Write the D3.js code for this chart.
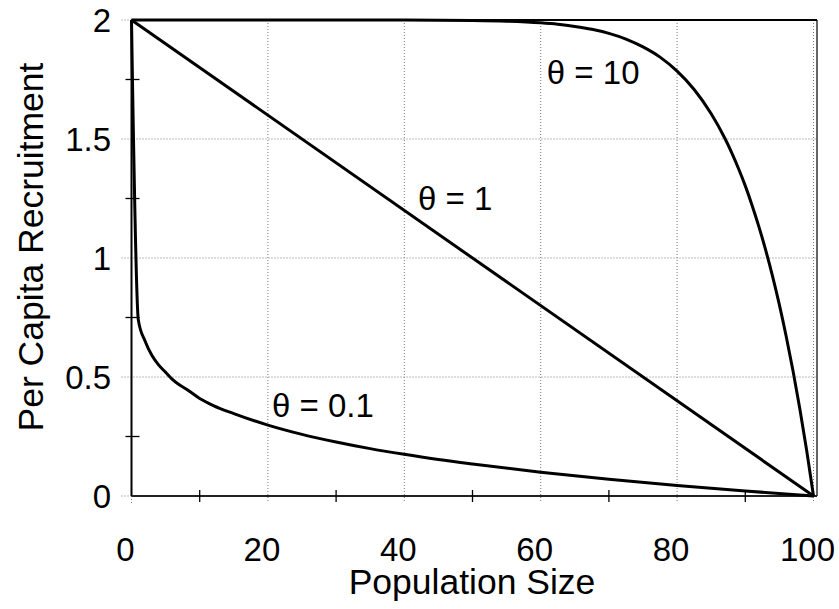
<!DOCTYPE html>
<html>
<head>
<meta charset="utf-8">
<script src="https://cdn.jsdelivr.net/npm/d3@7"></script>
<style>
  html, body { margin: 0; padding: 0; background: #fff; }
  text { font-family: "Liberation Sans", Arial, sans-serif; fill: #000; }
</style>
</head>
<body>
<svg id="chart" width="839" height="609"></svg>
<script>
// ---- data ----
const xTicks = [0, 20, 40, 60, 80, 100];
const yTicks = [0, 0.5, 1, 1.5, 2];
const xMinor = [10, 30, 50, 70, 90];
const yMinor = [0.25, 0.75, 1.25, 1.75];

const thetaLowN = [0, 1, 2, 3, 4, 5, 6, 7, 8, 10, 12, 15, 20, 25, 30, 35, 40, 45, 50, 60, 70, 80, 90, 100];
const thetaLowR = [2, 0.74, 0.65, 0.59, 0.55, 0.52, 0.49, 0.467, 0.45, 0.41, 0.38, 0.346, 0.298, 0.259, 0.227, 0.199, 0.175, 0.153, 0.134, 0.10, 0.07, 0.044, 0.021, 0];

const thetaOneN = [0, 100];
const thetaOneR = [2, 0];

const thetaHighN = [0, 20, 40, 50, 55, 60, 62.5, 65, 67.5, 70, 72.5, 75, 77.5, 80, 82.5, 85, 87, 88, 89, 90, 91, 92, 93, 94, 95, 96, 97, 98, 99, 100];
const thetaHighR = [2, 2, 2, 1.998, 1.995, 1.988, 1.982, 1.973, 1.961, 1.944, 1.920, 1.887, 1.844, 1.785, 1.708, 1.606, 1.503, 1.443, 1.376, 1.303, 1.221, 1.131, 1.032, 0.923, 0.803, 0.670, 0.525, 0.366, 0.191, 0];

const curveLabels = ["θ = 10", "θ = 1", "θ = 0.1"];
const labelPos = [[60.9, 1.73], [42.0, 1.2], [20.6, 0.33]];

const xTitle = "Population Size";
const yTitle = "Per Capita Recruitment";

// ---- drawing ----
const svg = d3.select("#chart");
const x = d3.scaleLinear().domain([0, 100]).range([131.5, 813.5]);
const y = d3.scaleLinear().domain([0, 2]).range([496, 20]);

// grid lines (dotted)
const grid = svg.append("g");
grid.selectAll("line.v").data(xTicks.slice(1)).join("line")
  .attr("x1", d => x(d)).attr("x2", d => x(d))
  .attr("y1", y(2)).attr("y2", y(0) + 7)
  .attr("stroke", "#777").attr("stroke-width", 1).attr("stroke-dasharray", "1,2");
grid.selectAll("line.h").data(yTicks).join("line")
  .attr("x1", x(0) - 10).attr("x2", x(100) + 3)
  .attr("y1", d => y(d)).attr("y2", d => y(d))
  .attr("stroke", "#777").attr("stroke-width", 1).attr("stroke-dasharray", "1,2");
grid.append("line")
  .attr("x1", x(0)).attr("x2", x(0))
  .attr("y1", y(0)).attr("y2", y(0) + 7)
  .attr("stroke", "#777").attr("stroke-dasharray", "1,2");

// frame
svg.append("line").attr("x1", x(100) + 3.5).attr("x2", x(100) + 3.5)
  .attr("y1", y(2)).attr("y2", y(0)).attr("stroke", "#333").attr("stroke-width", 1.5);
svg.append("line").attr("x1", x(0)).attr("x2", x(100) + 3.5)
  .attr("y1", y(2)).attr("y2", y(2)).attr("stroke", "#000").attr("stroke-width", 2);
svg.append("line").attr("x1", x(0)).attr("x2", x(0))
  .attr("y1", y(2)).attr("y2", y(0)).attr("stroke", "#000").attr("stroke-width", 2);
svg.append("line").attr("x1", x(0)).attr("x2", x(100) + 3.5)
  .attr("y1", y(0)).attr("y2", y(0)).attr("stroke", "#222").attr("stroke-width", 1.8);

// minor ticks
svg.selectAll("line.xm").data(xMinor).join("line")
  .attr("x1", d => x(d)).attr("x2", d => x(d))
  .attr("y1", y(0) - 6).attr("y2", y(0) + 6)
  .attr("stroke", "#000").attr("stroke-width", 1.3);
svg.selectAll("line.ym").data(yMinor).join("line")
  .attr("x1", x(0) - 6).attr("x2", x(0) + 8)
  .attr("y1", d => y(d)).attr("y2", d => y(d))
  .attr("stroke", "#000").attr("stroke-width", 1.3);

// tick labels
svg.selectAll("text.xt").data(xTicks).join("text")
  .attr("x", d => x(d) - 6).attr("y", 561)
  .attr("text-anchor", "middle").attr("font-size", 33)
  .text(d => d);
svg.selectAll("text.yt").data(yTicks).join("text")
  .attr("x", 111).attr("y", d => y(d)).attr("dy", "0.36em")
  .attr("text-anchor", "end").attr("font-size", 33)
  .text(d => d);

// axis titles
svg.append("text").attr("x", 472).attr("y", 594)
  .attr("text-anchor", "middle").attr("font-size", 35.5).text(xTitle);
svg.append("text").attr("transform", "translate(43,247) rotate(-90)")
  .attr("text-anchor", "middle").attr("font-size", 35.5).text(yTitle);

// curves
const line = d3.line().x(d => x(d[0])).y(d => y(d[1])).curve(d3.curveMonotoneX);
const series = [
  d3.zip(thetaHighN, thetaHighR),
  d3.zip(thetaOneN, thetaOneR),
  d3.zip(thetaLowN, thetaLowR)
];
svg.selectAll("path.curve").data(series).join("path")
  .attr("d", line).attr("fill", "none")
  .attr("stroke", "#000").attr("stroke-width", 3).attr("stroke-linejoin", "round");

// curve labels
svg.selectAll("text.cl").data(curveLabels).join("text")
  .attr("x", (d, i) => x(labelPos[i][0])).attr("y", (d, i) => y(labelPos[i][1]))
  .attr("font-size", 33).text(d => d);
</script>
</body>
</html>
